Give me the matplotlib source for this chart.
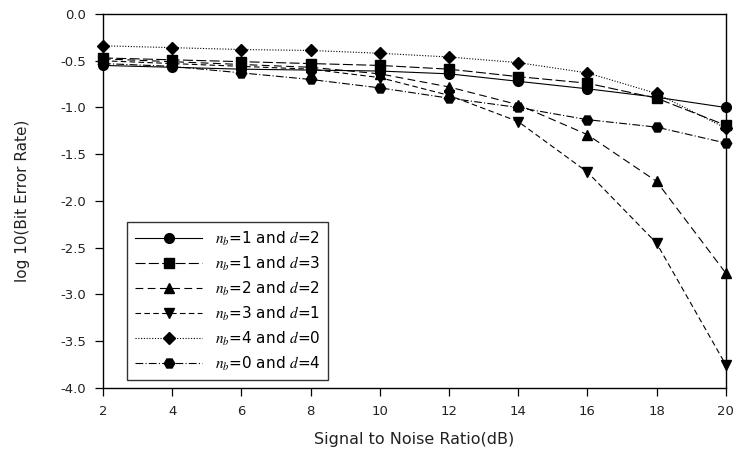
import matplotlib.pyplot as plt

snr = [2, 4, 6, 8, 10, 12, 14, 16, 18, 20]

ber_n1_d2 = [-0.55, -0.57, -0.59, -0.60, -0.61, -0.64, -0.72, -0.80, -0.89, -1.00]
ber_n1_d3 = [-0.47, -0.49, -0.51, -0.53, -0.55, -0.59, -0.67, -0.74, -0.90, -1.19]
ber_n2_d2 = [-0.48, -0.51, -0.54, -0.57, -0.64, -0.78, -0.97, -1.29, -1.79, -2.77]
ber_n3_d1 = [-0.50, -0.53, -0.56, -0.59, -0.68, -0.87, -1.15, -1.69, -2.45, -3.75]
ber_n4_d0 = [-0.34, -0.36, -0.38, -0.39, -0.42, -0.46, -0.52, -0.63, -0.85, -1.22]
ber_n0_d4 = [-0.53, -0.56, -0.63, -0.70, -0.79, -0.90, -1.00, -1.13, -1.21, -1.38]

labels = [r'$n_b$=1 and $d$=2', r'$n_b$=1 and $d$=3', r'$n_b$=2 and $d$=2',
          r'$n_b$=3 and $d$=1', r'$n_b$=4 and $d$=0', r'$n_b$=0 and $d$=4']

plt.rcParams['font.family'] = 'DejaVu Sans'
plt.rcParams['mathtext.fontset'] = 'stix'

fig = plt.figure(figsize=(7.34, 4.5), dpi=100)
ax = fig.add_axes([0.1403, 0.1378, 0.8484, 0.8311])

styles = [
    (ber_n1_d2, 'o', 7, '-'),
    (ber_n1_d3, 's', 6.5, (0, (9, 3))),
    (ber_n2_d2, '^', 7, (0, (7, 4))),
    (ber_n3_d1, 'v', 7, (0, (5, 3))),
    (ber_n4_d0, 'D', 6, (0, (1, 1.5))),
    (ber_n0_d4, 'H', 7.5, (0, (7, 2, 1, 2))),
]
for (vals, mk, ms, ls), lab in zip(styles, labels):
    ax.plot(snr, vals, color='black', linestyle=ls, linewidth=0.8,
            marker=mk, markersize=ms, markerfacecolor='black',
            markeredgecolor='black', label=lab, clip_on=False)

ax.set_xlim(2, 20)
ax.set_ylim(-4.0, 0.0)
ax.set_xticks(snr)
ax.set_yticks([0.0, -0.5, -1.0, -1.5, -2.0, -2.5, -3.0, -3.5, -4.0])
ax.set_yticklabels(['0.0', '-0.5', '-1.0', '-1.5', '-2.0', '-2.5', '-3.0', '-3.5', '-4.0'])
ax.tick_params(direction='out', length=6, width=0.9, labelsize=9.5, pad=6,
               labelcolor='#222222')
for s in ax.spines.values():
    s.set_linewidth(1.0)

ax.set_xlabel('Signal to Noise Ratio(dB)', fontsize=11.5, labelpad=10,
              color='#222222')
ax.set_ylabel('log 10(Bit Error Rate)', fontsize=11, labelpad=22,
              color='#222222')

leg = ax.legend(loc='lower left', bbox_to_anchor=(0.027, 0.0), fontsize=11,
                frameon=True, fancybox=False, edgecolor='black',
                handlelength=4.4, labelspacing=0.45, borderpad=0.5,
                handletextpad=0.8)
leg.get_frame().set_linewidth(1.0)

plt.savefig('out.png', dpi=100)
